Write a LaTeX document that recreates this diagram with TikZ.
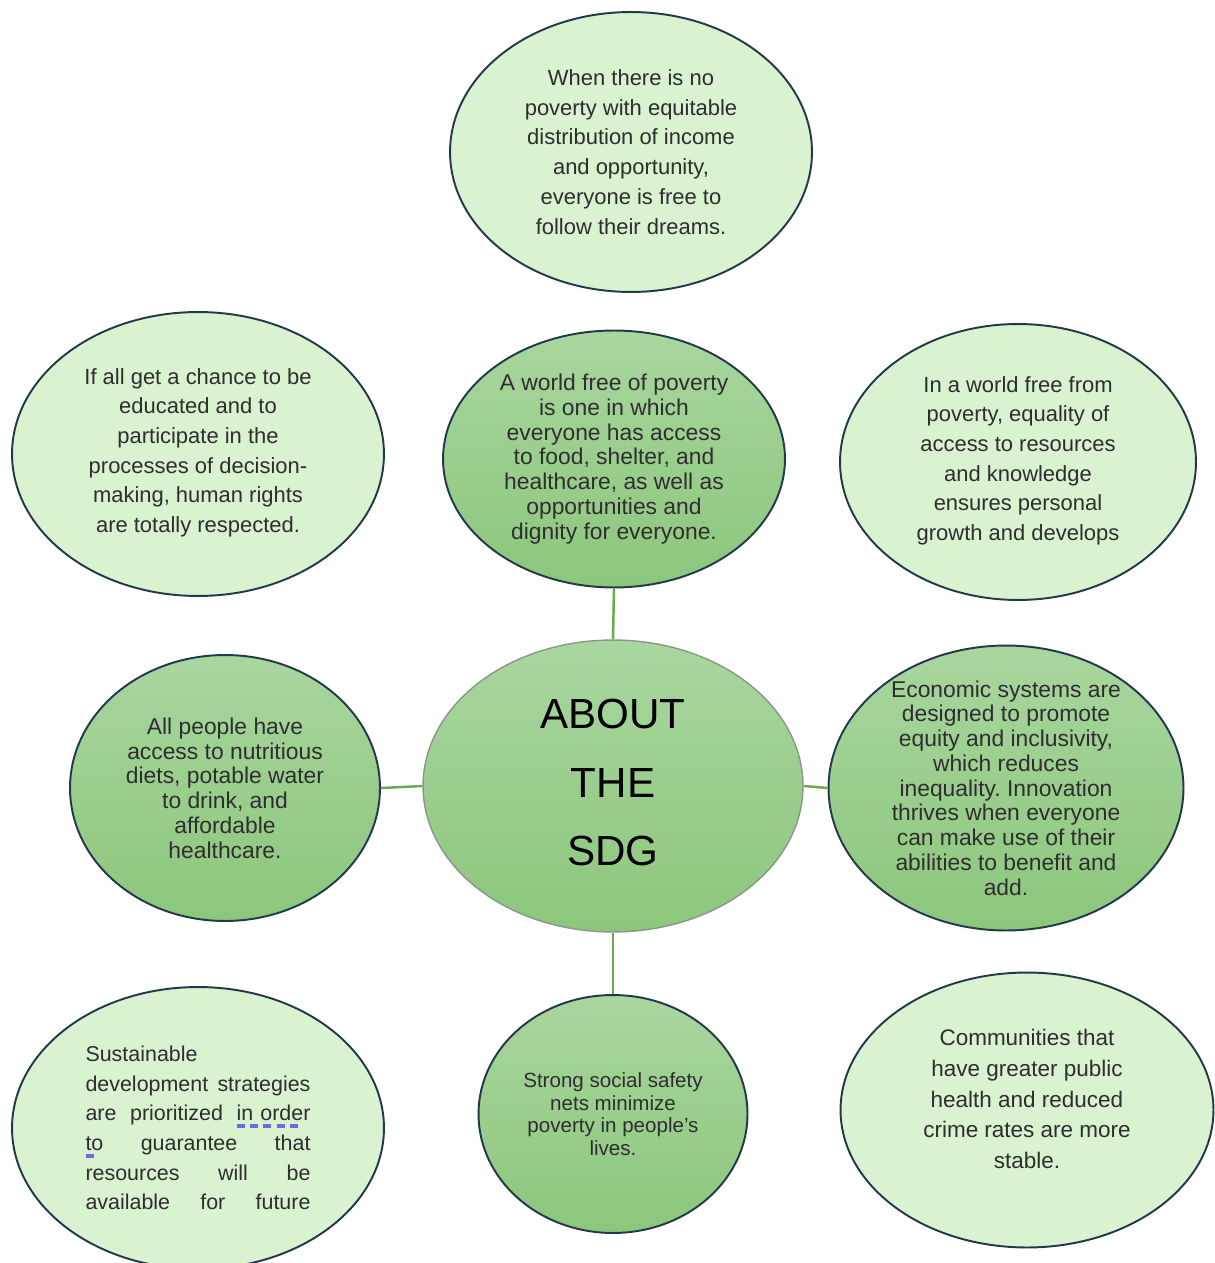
\documentclass[tikz,border=0pt]{standalone}
\usepackage{fontspec}
\setmainfont{Liberation Sans}
\usepackage{tikz}
\usetikzlibrary{shapes.geometric}
\frenchspacing
\definecolor{palegreen}{HTML}{D9F2D0}
\definecolor{deeptop}{HTML}{A9D69F}
\definecolor{deepbottom}{HTML}{8CC67C}
\definecolor{rimblue}{HTML}{22394A}
\definecolor{centerrim}{HTML}{8A9788}
\definecolor{linkgreen}{HTML}{6BA84F}
\definecolor{textgray}{HTML}{2E2E2E}
\definecolor{markblue}{HTML}{7566E8}
% dashed spell-check mark under a word
\newcommand{\spellmark}[1]{\setbox0=\hbox{#1}\rlap{\color{markblue}\raisebox{-4pt}{\hbox to \wd0{\leaders\hbox to 7.6pt{\rule{4.6pt}{2.2pt}\hss}\hfill}}}\box0}
\begin{document}
\begin{tikzpicture}[x=0.02cm,y=-0.02cm]
    \tikzstyle{every node} = [font=\fontsize{12.5}{16.9}\selectfont, text=textgray]
    \tikzstyle{bubble} = [draw=rimblue, line width=1.1pt, ellipse, inner xsep=0pt, inner ysep=-3cm, align=center]
    \tikzstyle{pale} = [bubble, fill=palegreen]
    \tikzstyle{deep} = [bubble, top color=deeptop, bottom color=deepbottom, font=\fontsize{13}{14.1}\selectfont]
    \tikzstyle{link} = [draw=linkgreen, line width=1.4pt]
    \useasboundingbox (0,0) rectangle (1214,1263);
    % place nodes
    \node[deep,draw=centerrim,line width=0.8pt,minimum width=7.6cm,minimum height=5.84cm,text=black,font=\fontsize{24}{39}\selectfont](aboutSdg) at (613,786){ABOUT\\THE\\SDG\\[-1.23cm]\mbox{}};
    \node[pale,minimum width=7.24cm,minimum height=5.6cm](freeDreams) at (631,152){When there is no\\poverty with equitable\\distribution of income\\and opportunity,\\everyone is free to\\follow their dreams.};
    \node[pale,minimum width=7.44cm,minimum height=5.68cm](humanRights) at (198,454){If all get a chance to be\\educated and to\\participate in the\\processes of decision-\\making, human rights\\are totally respected.\\[-0.45cm]\mbox{}};
    \node[deep,minimum width=6.84cm,minimum height=5.14cm](noPoverty) at (614,459){A world free of poverty\\is one in which\\everyone has access\\to food, shelter, and\\healthcare, as well as\\opportunities and\\dignity for everyone.};
    \node[pale,minimum width=7.12cm,minimum height=5.52cm](personalGrowth) at (1018,462){In a world free from\\poverty, equality of\\access to resources\\and knowledge\\ensures personal\\growth and develops\\[-0.45cm]\mbox{}};
    \node[deep,minimum width=6.2cm,minimum height=5.32cm](nutritionAccess) at (225,788){All people have\\access to nutritious\\diets, potable water\\to drink, and\\affordable\\healthcare.};
    \node[deep,minimum width=7.1cm,minimum height=5.7cm](inclusiveEconomy) at (1006,788){Economic systems are\\designed to promote\\equity and inclusivity,\\which reduces\\inequality. Innovation\\thrives when everyone\\can make use of their\\abilities to benefit and\\add.};
    \node[pale,minimum width=7.44cm,minimum height=5.64cm,align=left,text width=4.5cm,font=\fontsize{12.2}{16.9}\selectfont](futureResources) at (198,1128){Sustainable\\
      \makebox[4.5cm][s]{development\hfill strategies}\\
      \makebox[4.5cm][s]{are\hfill prioritized\hfill \spellmark{in order}}\\
      \makebox[4.5cm][s]{\spellmark{to}\hfill guarantee\hfill that}\\
      \makebox[4.5cm][s]{resources\hfill will\hfill be}\\
      \makebox[4.5cm][s]{available\hfill for\hfill future}};
    \node[deep,minimum width=5.38cm,minimum height=4.76cm,font=\fontsize{11.7}{12.9}\selectfont](safetyNets) at (613,1114){Strong social safety\\nets minimize\\poverty in people's\\lives.};
    \node[pale,minimum width=7.46cm,minimum height=5.5cm,font=\fontsize{12.8}{17.4}\selectfont](stableCommunities) at (1027,1110){Communities that\\have greater public\\health and reduced\\crime rates are more\\stable.\\[-0.17cm]\mbox{}};
    % Connections
    \draw[link] (noPoverty.south)--(aboutSdg.north);
    \draw[link] (aboutSdg.south)--(safetyNets.north);
    \draw[link] (aboutSdg.west)--(nutritionAccess.east);
    \draw[link] (aboutSdg.east)--(inclusiveEconomy.west);
  \end{tikzpicture}
\end{document}
